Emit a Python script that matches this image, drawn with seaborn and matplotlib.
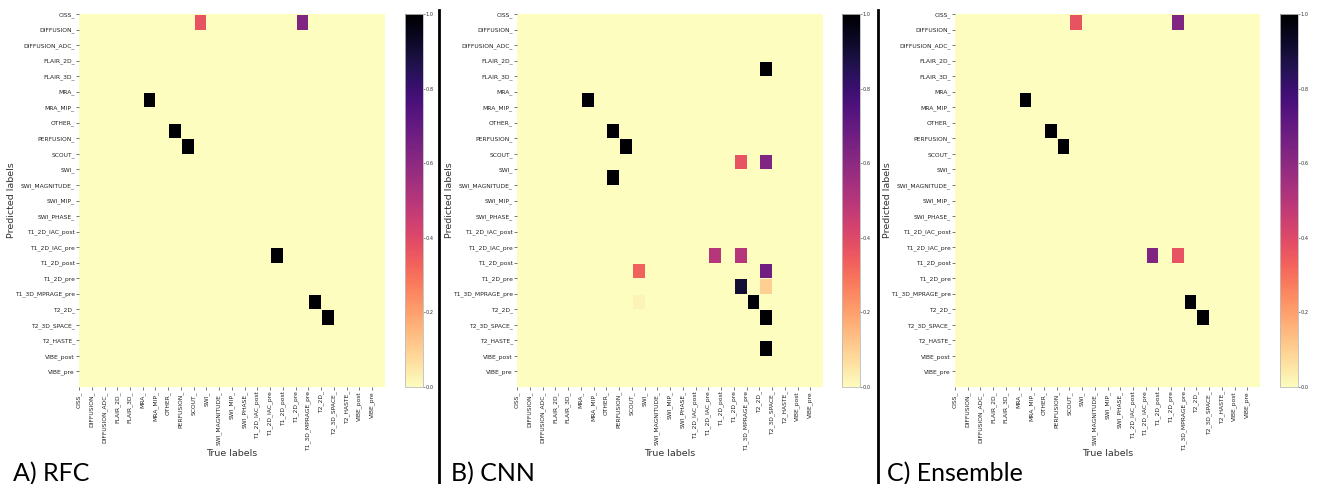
import numpy as np
import pandas as pd
import matplotlib
matplotlib.use("Agg")
import matplotlib.pyplot as plt
from matplotlib.lines import Line2D
import seaborn as sns

# ---------------- data ----------------
labels = ["CISS_", "DIFFUSION_", "DIFFUSION_ADC_", "FLAIR_2D_", "FLAIR_3D_", "MRA_",
          "MRA_MIP_", "OTHER_", "PERFUSION_", "SCOUT_", "SWI_", "SWI_MAGNITUDE_",
          "SWI_MIP_", "SWI_PHASE_", "T1_2D_IAC_post", "T1_2D_IAC_pre", "T1_2D_post",
          "T1_2D_pre", "T1_3D_MPRAGE_pre", "T2_2D_", "T2_3D_SPACE_", "T2_HASTE_",
          "VIBE_post", "VIBE_pre"]

# non-zero cells: (row = predicted, col = true, value)
rfc_rows = [0, 0, 5, 7, 8, 15, 18, 19]
rfc_cols = [9, 17, 5, 7, 8, 15, 18, 19]
rfc_vals = [0.37, 0.63, 1.0, 1.0, 1.0, 1.0, 1.0, 1.0]

cnn_rows = [3, 5, 7, 8, 9, 9, 10, 15, 15, 16, 16, 17, 17, 18, 18, 19, 21]
cnn_cols = [19, 5, 7, 8, 17, 19, 7, 15, 17, 9, 19, 17, 19, 9, 18, 19, 19]
cnn_vals = [1.0, 1.0, 1.0, 1.0, 0.37, 0.63, 1.0, 0.5, 0.5, 0.33, 0.67, 0.9, 0.1,
            0.02, 0.98, 1.0, 1.0]

ens_rows = [0, 0, 5, 7, 8, 15, 15, 18, 19]
ens_cols = [9, 17, 5, 7, 8, 15, 17, 18, 19]
ens_vals = [0.37, 0.63, 1.0, 1.0, 1.0, 0.63, 0.37, 1.0, 1.0]

panel_titles = ["A) RFC", "B) CNN", "C) Ensemble"]


def build(rows, cols, vals):
    m = np.zeros((len(labels), len(labels)))
    for r, c, v in zip(rows, cols, vals):
        m[r, c] = v
    return pd.DataFrame(m, index=labels, columns=labels)


mats = [build(rfc_rows, rfc_cols, rfc_vals),
        build(cnn_rows, cnn_cols, cnn_vals),
        build(ens_rows, ens_cols, ens_vals)]

# ---------------- layout ----------------
W, H = 1320, 484
fig = plt.figure(figsize=(W / 100, H / 100), dpi=100)
fig.patch.set_facecolor("white")

hm_left = [79, 517, 955]
hm_width = [306, 306, 305]
cb_left = [405, 842, 1280]
top_px, bot_px = 14, 387
title_x = [13, 451, 887]
ylab_x = [12, 449, 887]

cmap = "magma_r"

for i in range(3):
    ax = fig.add_axes([hm_left[i] / W, (H - bot_px) / H, hm_width[i] / W, (bot_px - top_px) / H])
    cax = fig.add_axes([cb_left[i] / W, (H - bot_px) / H, 18 / W, (bot_px - top_px) / H])
    sns.heatmap(mats[i], ax=ax, cbar_ax=cax, cmap=cmap, vmin=0, vmax=1,
                linewidths=0.6, linecolor="#fcfdbf", xticklabels=False, yticklabels=False)
    n = len(labels)
    ax.set_xticks(np.arange(n))
    ax.set_xticklabels(labels, rotation=90, fontsize=4.3, color="#222222")
    ax.set_yticks(np.arange(n))
    ax.set_yticklabels(labels, rotation=0, fontsize=4.3, color="#222222")
    ax.tick_params(axis="both", length=2, width=0.5, pad=1, color="#444444")
    ax.set_xlabel("True labels", fontsize=6.8, color="#333333")
    ax.xaxis.set_label_coords(0.5, -(449 - bot_px) / (bot_px - top_px))
    ax.set_ylabel("")
    fig.text(ylab_x[i] / W, (H - (top_px + bot_px) / 2) / H, "Predicted labels",
             rotation=90, fontsize=6.8, color="#333333", ha="center", va="center")

    cax.tick_params(labelsize=3.6, length=1.5, width=0.4, pad=0.5, colors="#333333")
    cax.set_yticks([0.0, 0.2, 0.4, 0.6, 0.8, 1.0])
    cax.set_yticklabels(["0.0", "0.2", "0.4", "0.6", "0.8", "1.0"])
    for sp in cax.spines.values():
        sp.set_visible(False)
    cb = ax.collections[0].colorbar
    cb.outline.set_visible(True)
    cb.outline.set_linewidth(0.6)
    cb.outline.set_edgecolor("#bbbbbb")

    fig.text(title_x[i] / W, (H - 481) / H, panel_titles[i], fontsize=18,
             family="Lato", color="black", ha="left", va="baseline")

# separator lines
for xs in [438.5, 877.5]:
    fig.add_artist(Line2D([xs / W, xs / W], [0, (H - 10) / H], color="black", lw=2,
                          transform=fig.transFigure))

fig.savefig("out.png", dpi=100, facecolor="white")
